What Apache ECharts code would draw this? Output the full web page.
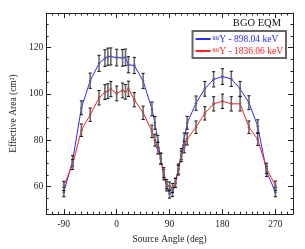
<!DOCTYPE html>
<html>
<head>
<meta charset="utf-8">
<script src="https://cdn.jsdelivr.net/npm/echarts@6/dist/echarts.min.js"></script>
<style>
html,body{margin:0;padding:0;background:#fff;}
#c{width:305px;height:249px;}
</style>
</head>
<body>
<div id="c"></div>
<script>
var angles = [-90,-75,-60,-45,-30,-20,-15,-10,0,10,15,20,30,45,60,65,70,75,80,85,90,95,100,105,110,115,120,135,150,165,180,195,210,225,240,255,270];
var blueVals = [57.5,71,94,105.7,113.2,115.5,116.1,116.2,115.7,115.6,115.8,112.6,112.3,105.6,93.5,87.5,79.5,72,65,60,56.8,57.5,61.5,67.5,74,80.5,87.5,96,102.2,106.3,107.5,106.5,102.2,96.2,86,66.5,57.5];
var redVals = [60.2,69.5,84.3,91,98.3,100.8,101.2,102.1,100.2,101.5,100.9,102.2,97.5,91.8,83.8,80,76.5,72,66,61,60,59.3,61.5,67,73,77,80.5,85.6,91.6,95.7,96.8,95.7,95.7,85.6,80.3,67.8,60.3];
var blueErr = [2.0,2.3,3.0,3.3,3.5,3.6,3.7,3.7,3.6,3.6,3.6,3.5,3.5,3.3,3.0,2.8,2.6,2.4,2.2,2.0,1.9,1.9,2.0,2.2,2.4,2.6,2.8,3.1,3.2,3.3,3.4,3.3,3.2,3.0,2.8,2.2,2.0];
var redErr = [2.0,2.2,2.7,2.9,3.1,3.2,3.2,3.3,3.2,3.2,3.2,3.3,3.1,2.9,2.7,2.6,2.5,2.3,2.1,2.0,1.9,1.9,2.0,2.1,2.3,2.5,2.6,2.7,2.9,3.1,3.1,3.1,3.1,2.7,2.6,2.2,2.0];
var xMajor = [-90,0,90,180,270];
var xMinor = [-120,-110,-100,-80,-70,-60,-50,-40,-30,-20,-10,10,20,30,40,50,60,70,80,100,110,120,130,140,150,160,170,190,200,210,220,230,240,250,260,280,290,300];
var yMajor = [60,80,100,120];
var yMinor = [50,55,65,70,75,85,90,95,105,110,115,125,130,135];
var seriesNames = ['\u2078\u2078Y - 898.04 keV','\u2078\u2078Y - 1836.06 keV'];
var titleText = 'BGO EQM';
var xTitle = 'Source Angle (deg)';
var yTitle = 'Effective Area (cm\u00B2)';

var FONT = '"Liberation Serif", "DejaVu Serif", serif';
var BLUE = '#2a2aff';
var RED = '#ff2020';

function pairs(vals){ return angles.map(function(a,i){ return [a, vals[i]]; }); }
function errData(vals, errs){ return angles.map(function(a,i){ return [a, vals[i]-errs[i], vals[i]+errs[i]]; }); }

function errRender(params, api){
  var x = api.value(0), lo = api.value(1), hi = api.value(2);
  var p1 = api.coord([x, lo]), p2 = api.coord([x, hi]);
  var w = 1.6;
  return {type:'group', children:[
    {type:'line', shape:{x1:p1[0],y1:p1[1],x2:p2[0],y2:p2[1]}, style:{stroke:'#6a6a6a',lineWidth:1.6}},
    {type:'line', shape:{x1:p1[0]-w,y1:p1[1],x2:p1[0]+w,y2:p1[1]}, style:{stroke:'#111',lineWidth:1}},
    {type:'line', shape:{x1:p2[0]-w,y1:p2[1],x2:p2[0]+w,y2:p2[1]}, style:{stroke:'#111',lineWidth:1}}
  ]};
}

function xAx(pos, ticks, len, labels, line){
  return {type:'value', position:pos, min:-120, max:300, gridIndex:0,
    axisLine:{show:line, onZero:false, lineStyle:{color:'#222',width:1}},
    axisTick:{show:true, inside:true, length:len, customValues:ticks, lineStyle:{color:'#222',width:1}},
    axisLabel:{show:labels, customValues:ticks, color:'#222', fontFamily:FONT, fontSize:9.5, margin:5},
    splitLine:{show:false},
    name: labels ? xTitle : '', nameLocation:'middle', nameGap:15,
    nameTextStyle:{color:'#222', fontFamily:FONT, fontSize:9.5}
  };
}
function yAx(pos, ticks, len, labels, line){
  return {type:'value', position:pos, min:48, max:135, gridIndex:0,
    axisLine:{show:line, onZero:false, lineStyle:{color:'#222',width:1}},
    axisTick:{show:true, inside:true, length:len, customValues:ticks, lineStyle:{color:'#222',width:1}},
    axisLabel:{show:labels, customValues:ticks, color:'#222', fontFamily:FONT, fontSize:9.5, margin:3},
    splitLine:{show:false},
    name: labels ? yTitle : '', nameLocation:'middle', nameGap:22,
    nameTextStyle:{color:'#222', fontFamily:FONT, fontSize:9.5}
  };
}

var chart = echarts.init(document.getElementById('c'), null, {renderer:'canvas'});
chart.setOption({
  animation:false,
  backgroundColor:'#fff',
  grid:{left:42, right:12, top:13, bottom:27, containLabel:false},
  xAxis:[
    xAx('bottom', xMajor, 5, true, true),
    xAx('bottom', xMinor, 2.5, false, false),
    xAx('top', xMajor, 5, false, true),
    xAx('top', xMinor, 2.5, false, false)
  ],
  yAxis:[
    yAx('left', yMajor, 5, true, true),
    yAx('left', yMinor, 2.5, false, false),
    yAx('right', yMajor, 5, false, true),
    yAx('right', yMinor, 2.5, false, false)
  ],
  title:{text:titleText, right:24, top:18, padding:0, textStyle:{color:'#111', fontFamily:FONT, fontSize:10.5, fontWeight:'normal'}},
  legend:{
    orient:'vertical', right:19, top:31, padding:[3,3,2,3], itemGap:2,
    borderColor:'#666', borderWidth:2, backgroundColor:'#fff',
    itemWidth:15, itemHeight:2, icon:'rect',
    textStyle:{fontFamily:FONT, fontSize:9.5, padding:[0,0,0,-3]},
    data:[
      {name:seriesNames[0], textStyle:{color:BLUE}},
      {name:seriesNames[1], textStyle:{color:RED}}
    ]
  },
  series:[
    {name:seriesNames[0], type:'line', data:pairs(blueVals), xAxisIndex:0, yAxisIndex:0,
      symbol:'circle', symbolSize:2.5, itemStyle:{color:BLUE}, lineStyle:{color:BLUE,width:1}, z:3},
    {name:seriesNames[1], type:'line', data:pairs(redVals), xAxisIndex:0, yAxisIndex:0,
      symbol:'circle', symbolSize:2.5, itemStyle:{color:RED}, lineStyle:{color:RED,width:1}, z:3},
    {type:'custom', renderItem:errRender, data:errData(blueVals, blueErr), xAxisIndex:0, yAxisIndex:0, z:4, encode:{x:0,y:[1,2]}},
    {type:'custom', renderItem:errRender, data:errData(redVals, redErr), xAxisIndex:0, yAxisIndex:0, z:4, encode:{x:0,y:[1,2]}}
  ]
});
</script>
</body>
</html>
